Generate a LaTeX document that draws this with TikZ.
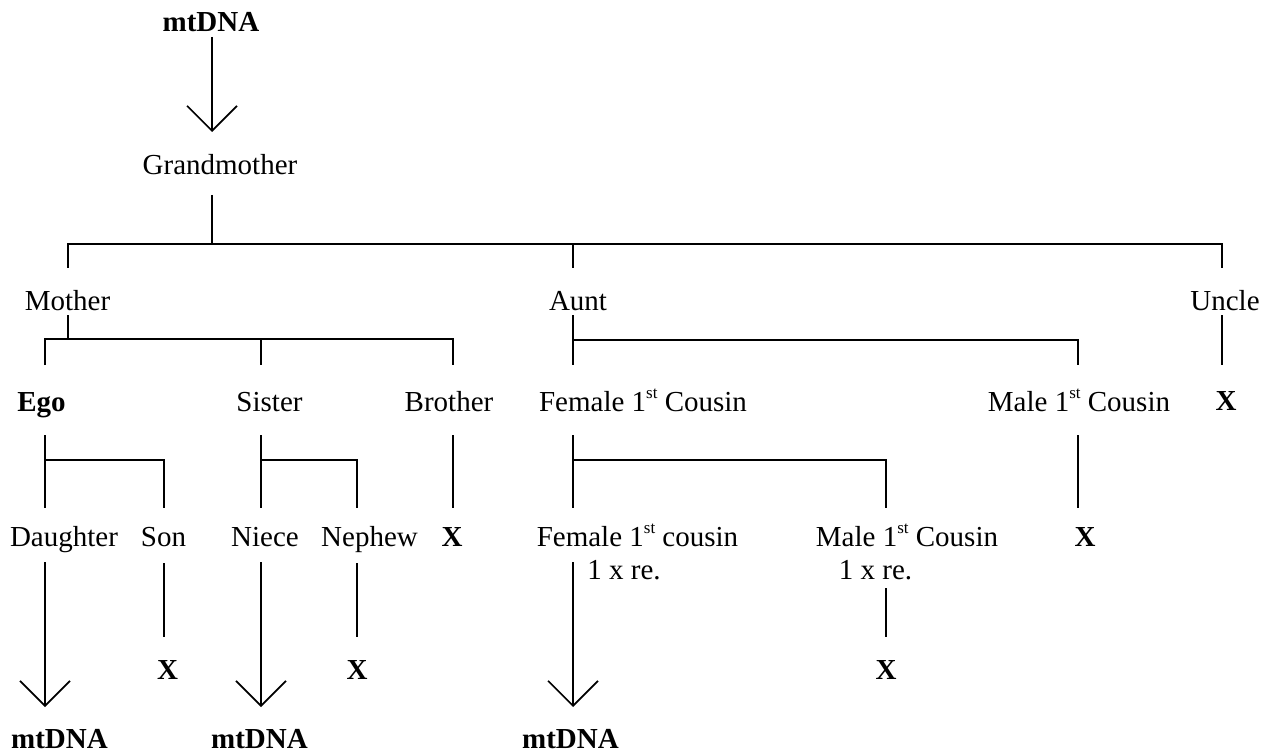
\documentclass[tikz,border=0pt]{standalone}
\usepackage{fontspec}
\setmainfont{Liberation Serif}
\usetikzlibrary{arrows.meta}
\newcommand{\myst}{\raisebox{0.42em}{\fontsize{17}{17}\selectfont st}}
\begin{document}
\begin{tikzpicture}[x=1pt,y=-1pt,
  every node/.style={inner sep=0pt, anchor=base, font=\fontsize{29}{34}\selectfont},
  bld/.style={font=\fontsize{29}{34}\selectfont\bfseries},
  conn/.style={line width=1.6pt},
  inh/.style={conn, -{Straight Barb[length=25pt,width=50pt]}}]
\useasboundingbox (0,0) rectangle (1275,754);
% labels
\node[bld] (mt0) at (211,32) {mtDNA};
\node (gm) at (220,175) {Grandmother};
\node (mother) at (67.5,310) {Mother};
\node (aunt) at (578,310) {Aunt};
\node (uncle) at (1225,310) {Uncle};
\node[bld] (ego) at (41.5,411) {Ego};
\node (sister) at (269.5,411) {Sister};
\node (brother) at (449,411) {Brother};
\node (fc) at (643,411) {Female 1\myst{} Cousin};
\node (mc) at (1079,411) {Male 1\myst{} Cousin};
\node[bld] (xu) at (1226,410) {X};
\node (dau) at (64,546) {Daughter};
\node (son) at (163.5,546) {Son};
\node (niece) at (265,546) {Niece};
\node (nephew) at (369.5,546) {Nephew};
\node[bld] (xb) at (452,546) {X};
\node (fcr) at (637.5,546) {Female 1\myst{} cousin};
\node (fcr2) at (624,579) {1 x re.};
\node (mcr) at (907,546) {Male 1\myst{} Cousin};
\node (mcr2) at (875.5,579) {1 x re.};
\node[bld] (xm) at (1085,546) {X};
\node[bld] (xs) at (167.5,679) {X};
\node[bld] (xn) at (357,679) {X};
\node[bld] (xmr) at (886,679) {X};
\node[bld] (mt1) at (59.5,748) {mtDNA};
\node[bld] (mt2) at (259.5,748) {mtDNA};
\node[bld] (mt3) at (570.5,748) {mtDNA};
% connector end points
\coordinate (a0) at (212,37);   \coordinate (a1) at (212,132);
\coordinate (g0) at (212,195);  \coordinate (g1) at (212,244);
% level 1
\draw[inh] (a0) -- (a1);
\draw[conn] (g0) -- (g1);
\draw[conn] (68,268) -- (68,244) -- (1222,244) -- (1222,268);
\draw[conn] (573,244) -- (573,268);
% level 2
\draw[conn] (68,315) -- (68,339);
\draw[conn] (45,365) -- (45,339) -- (453,339) -- (453,365);
\draw[conn] (261,339) -- (261,365);
\draw[conn] (573,315) -- (573,365);
\draw[conn] (573,340) -- (1078,340) -- (1078,365);
\draw[conn] (1222,315) -- (1222,365);
% level 3
\draw[conn] (45,435) -- (45,508);
\draw[conn] (45,460) -- (164,460) -- (164,508);
\draw[conn] (261,435) -- (261,508);
\draw[conn] (261,460) -- (357,460) -- (357,508);
\draw[conn] (453,435) -- (453,508);
\draw[conn] (573,435) -- (573,508);
\draw[conn] (573,460) -- (886,460) -- (886,508);
\draw[conn] (1078,435) -- (1078,508);
% level 4
\draw[inh] (45,562) -- (45,707);
\draw[conn] (164,563) -- (164,637);
\draw[inh] (261,562) -- (261,707);
\draw[conn] (357,563) -- (357,637);
\draw[inh] (573,562) -- (573,707);
\draw[conn] (886,588) -- (886,637);
\end{tikzpicture}
\end{document}
